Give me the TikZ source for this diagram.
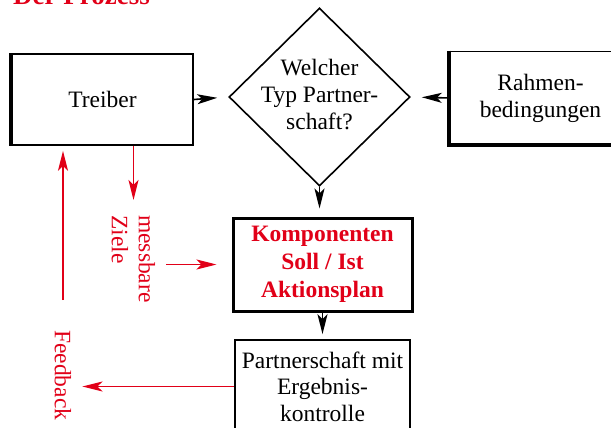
\documentclass[tikz,border=0pt]{standalone}
\usepackage{fontspec}
\setmainfont{Liberation Serif}
\usetikzlibrary{shapes.geometric}
\usetikzlibrary{arrows.meta}
\definecolor{rot}{RGB}{225,0,24}
\tikzset{
	kasten/.style={draw, line width=1.6pt, minimum width=181pt, minimum height=91pt, inner sep=0pt, align=center, font=\fontsize{23.5}{27}\selectfont},
	pfeil/.style={-{Stealth[length=20pt,width=10pt,inset=5pt]}, line width=1.6pt},
	rotpfeil/.style={pfeil, rot, line width=1.5pt},
	rottext/.style={rot, rotate=-90, anchor=west, align=left, inner sep=0pt, font=\fontsize{23.5}{27}\selectfont}
}
\begin{document}
\begin{tikzpicture}[x=1pt, y=-1pt]
	\useasboundingbox (0,0) rectangle (611,428);

	% Title
	\node [anchor=base west, inner sep=0pt, text=rot, font=\fontsize{27}{30}\selectfont\bfseries] (titel) at (13,5) {Der Prozess};

	% Boxes and decision
	\node [kasten] (treiber) at (102.5,99.5) {Treiber};
	\node [diamond, draw, line width=1.6pt, minimum width=181pt, minimum height=178pt, inner sep=0pt] (typ) at (319.5,97) {};
	\node [align=center, inner sep=0pt, font=\fontsize{23.5}{27}\selectfont] (typtext) at ([yshift=2pt]typ.center) {Welcher\\Typ Partner-\\schaft?};
	\node [kasten, minimum height=93pt] (rahmen) at (540.5,98) {Rahmen-\\bedingungen};
	\node [kasten, line width=3pt, minimum width=179pt, minimum height=93pt, text=rot, font=\fontsize{23.5}{28}\selectfont\bfseries] (komp) at (322.5,264.5) {Komponenten\\Soll / Ist\\Aktionsplan};
	\node [kasten, minimum width=175pt, minimum height=93pt, font=\fontsize{23.5}{26.5}\selectfont] (partner) at (322.5,386.5) {Partnerschaft mit\\Ergebnis-\\kontrolle};

	% Heavier edges
	\draw [line width=3.5pt] (treiber.north west) -- (treiber.south west);
	\draw [line width=4pt] (rahmen.north west) -- (rahmen.south west) -- (rahmen.south east);

	% Red labels
	\node [rottext] (ziele) at (133.5,215) {messbare\\Ziele};
	\node [rottext] (feedback) at (63,330) {Feedback};

	% Black arrows
	\draw [pfeil, shorten >=11pt] (treiber.east) -- (typ.west);
	\draw [pfeil, shorten >=11pt] (rahmen.west) -- (typ.east);
	\draw [pfeil, shorten >=8pt] (typ.south) -- (typ.south |- komp.north);
	\draw [pfeil, shorten >=5pt] (komp.south) -- (partner.north);

	% Red arrows
	\draw [rotpfeil, shorten >=15pt] (treiber.south -| ziele.west) -- (ziele.west);
	\draw [rotpfeil, shorten <=11pt, shorten >=15pt] (komp.west -| ziele.north) -- (komp.west);
	\draw [rotpfeil, shorten >=11pt] (partner.west) -- (partner.west -| feedback.north);
	\draw [rotpfeil, shorten <=30pt, shorten >=5pt] (feedback.west) -- (treiber.south -| feedback.west);

\end{tikzpicture}
\end{document}
